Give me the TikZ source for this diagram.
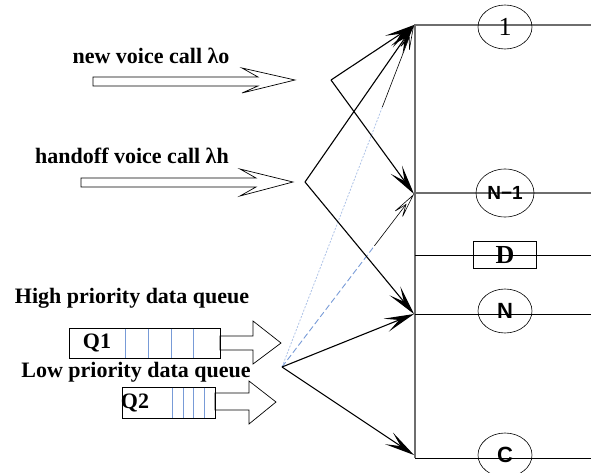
\documentclass[tikz,border=0pt]{standalone}
\usepackage{fontspec}
\setmainfont{Liberation Serif}
\newfontfamily\sansf{Liberation Sans}
\usetikzlibrary{arrows.meta,shapes.geometric,calc}
\definecolor{qblue}{RGB}{120,155,215}
\definecolor{busgray}{RGB}{110,110,110}
\begin{document}
\begin{tikzpicture}[x=1pt,y=-1pt,
  lbl/.style={font=\bfseries\fontsize{22}{24}\selectfont, inner sep=0pt},
  srv/.style={draw, ellipse, minimum width=54pt, minimum height=44pt, inner sep=0pt, line width=0.6pt},
  bus/.style={draw=busgray, line width=1.1pt},
  busk/.style={draw=black, line width=0.9pt},
  arr/.style={-{Stealth[length=30pt,width=14pt,inset=14pt]}, line width=1.1pt},
  thinarr/.style={-{Stealth[length=28pt,width=11pt,inset=14pt,open]}, line width=0.6pt},
  hollow/.style={draw, fill=white, line width=0.7pt},
  qbox/.style={draw, line width=0.7pt},
  qdiv/.style={draw=qblue, line width=0.8pt}
]
\useasboundingbox (0,0) rectangle (591,473);

% buses
\draw[bus] (415,458) -- (415,25) -- (591,25);
\draw[bus] (415,193) -- (591,193);
\draw[busk] (415,255) -- (591,255);
\draw[busk] (415,314) -- (591,314);
\draw[busk] (415,458) -- (591,458);

% servers
\node[srv, font=\fontsize{26}{28}\selectfont] (s1) at (505,27) {1};
\node[srv, minimum width=58pt, minimum height=48pt, font=\sansf\bfseries\fontsize{19}{21}\selectfont] (sn1) at (505,193) {N\textminus1};
\node[draw, line width=0.7pt, minimum width=63pt, minimum height=27pt, inner sep=0pt, font=\bfseries\fontsize{26}{28}\selectfont] (sd) at (505,255) {D};
\node[srv, font=\sansf\bfseries\fontsize{22}{24}\selectfont] (sn) at (505,311) {N};
\node[srv, font=\sansf\bfseries\fontsize{22}{24}\selectfont] (sc) at (505,455) {C};

% labels
\node[lbl] (tnew) at (151,56) {new voice call λo};
\node[lbl] (thand) at (132,156) {handoff voice call λh};
\node[lbl] (thigh) at (132,298) {High priority data queue};
\node[lbl] (tlow) at (136,372) {Low priority data queue};

% hollow arrows
\draw[hollow] (93,77) -- (258,77) -- (242,68) -- (295,80) -- (242,93) -- (258,86) -- (93,86) -- cycle;
\draw[hollow] (81,178) -- (256,178) -- (240,169) -- (293,182) -- (240,196) -- (256,187) -- (81,187) -- cycle;
\draw[hollow] (220,336) -- (253,336) -- (253,321) -- (281,343) -- (253,364) -- (253,350) -- (220,350) -- cycle;
\draw[hollow] (215,393) -- (249,393) -- (249,381) -- (276,402) -- (249,424) -- (249,410) -- (215,410) -- cycle;

% queues
\node[qbox, minimum width=151pt, minimum height=30pt, inner sep=0pt] (q1) at (144.5,343) {};
\node[font=\bfseries\fontsize{22}{24}\selectfont, inner sep=0pt] (q1t) at (97,343) {Q1};
\foreach \x in {125,148,171,193} \draw[qdiv] (\x,328.5) -- (\x,357.5);
\node[qbox, minimum width=93pt, minimum height=31pt, inner sep=0pt] (q2) at (168.5,402.5) {};
\node[font=\bfseries\fontsize{22}{24}\selectfont, inner sep=0pt] (q2t) at (135,403) {Q2};
\foreach \x in {172,183,193,204} \draw[qdiv] (\x,387.5) -- (\x,417.5);

% connector points
\coordinate (pA) at (331,80);
\coordinate (pB) at (305,182);
\coordinate (pC) at (282,367);
\coordinate (t1) at (414,25);
\coordinate (tN1) at (414,194);
\coordinate (tN) at (414,314);
\coordinate (tC) at (414,455);

% blue lines
\draw[qblue!60, dash pattern=on 2pt off 1.5pt, line width=0.8pt] (pC) -- ($(pC)!0.76!(t1)$);
\draw[thinarr] ($(pC)!0.76!(t1)$) -- (t1);
\draw[qblue, dash pattern=on 6pt off 3pt, line width=0.9pt] (pC) -- ($(pC)!0.7!(tN1)$);
\draw[thinarr] ($(pC)!0.7!(tN1)$) -- (tN1);

% black arrows
\draw[arr] (pA) -- (t1);
\draw[arr] (pA) -- (tN1);
\draw[arr] (pB) -- (t1);
\draw[arr] (pB) -- (tN);
\draw[arr] (pC) -- (tN);
\draw[arr] (pC) -- (tC);
\end{tikzpicture}
\end{document}
